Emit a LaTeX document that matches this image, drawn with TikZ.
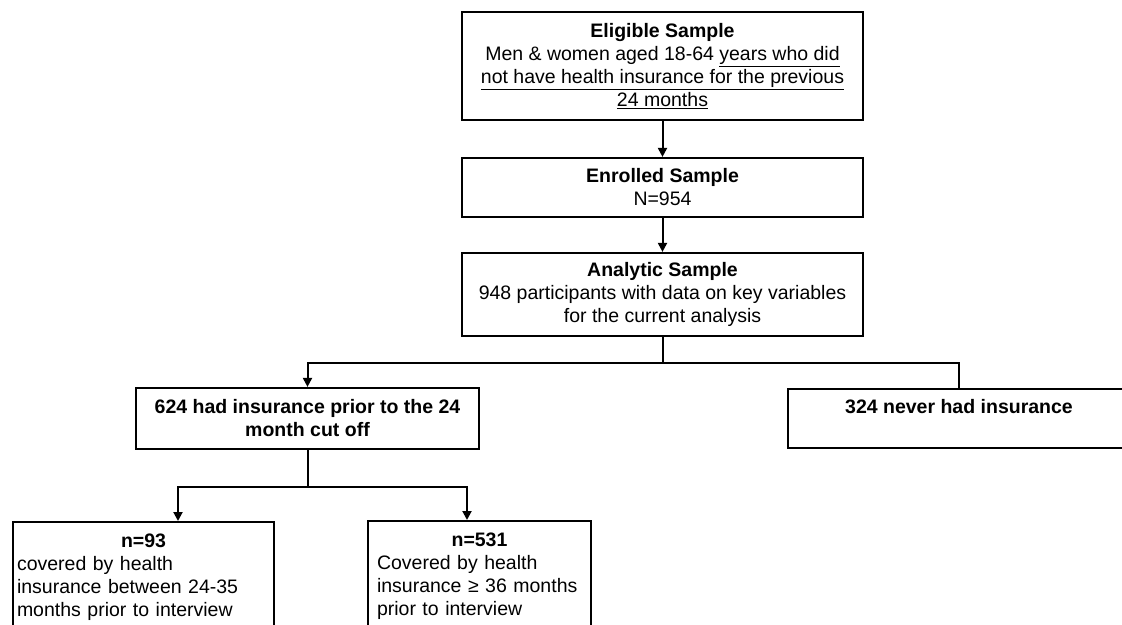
\documentclass[tikz,border=0pt]{standalone}
\usepackage{fontspec}
\setmainfont{Liberation Sans}
\usetikzlibrary{arrows.meta}

\tikzset{
  flowbox/.style={draw, line width=2.2pt, inner sep=0pt, font=\fontsize{19.5}{23}\selectfont},
  centerbox/.style={flowbox, align=center},
  groupbox/.style={flowbox, anchor=north, inner ysep=12pt, text depth=100pt},
  flowline/.style={line width=2pt},
  flowarrow/.style={flowline, -{Triangle[width=9pt,length=9pt]}}
}

\begin{document}
\begin{tikzpicture}[x=1pt, y=-1pt]
    \useasboundingbox (0,0) rectangle (1122,624);
    \clip (0,0) rectangle (1122,624);

    %sample column
    \node[centerbox, minimum width=401pt, minimum height=108pt] (elig) at (662.5,66)
      {\textbf{Eligible Sample}\\Men \& women aged 18-64 \underline{years who did}\\
       \underline{not have health insurance for the previous}\\\underline{24 months}};
    \node[centerbox, minimum width=401pt, minimum height=59pt] (enrol) at (662.5,187.5)
      {\textbf{Enrolled Sample}\\N=954};
    \node[centerbox, minimum width=401pt, minimum height=83pt] (anal) at (662.5,294.5)
      {\textbf{Analytic Sample}\\948 participants with data on key variables\\for the current analysis};

    %insurance history
    \node[centerbox, minimum width=343pt, minimum height=61pt] (had) at (307.5,418.5)
      {\textbf{624 had insurance prior to the 24}\\\textbf{month cut off}};
    \node[centerbox, minimum width=342pt, minimum height=59pt, text height=15pt, text depth=26pt] (never) at (959,418.5)
      {\textbf{324 never had insurance}};

    %coverage groups
    \node[groupbox, text width=253pt, inner xsep=4pt] (short) at (143.5,521)
      {{\centering\textbf{n=93}\par}\raggedright covered by health\\insurance between 24-35\\months prior to interview};
    \node[groupbox, text width=205pt, inner xsep=9pt] (long) at (479.5,520)
      {{\centering\textbf{n=531}\par}\raggedright Covered by health\\insurance ≥ 36 months\\prior to interview};

    \coordinate (split1) at (662.5,363);
    \coordinate (split2) at (307.5,487);

    \draw[flowarrow] (elig) -- (enrol);
    \draw[flowarrow] (enrol) -- (anal);
    \draw[flowline] (anal) -- (split1);
    \draw[flowarrow] (split1) -| (had);
    \draw[flowline] (split1) -| (never);
    \draw[flowline] (had) -- (split2);
    \draw[flowarrow] (split2) -| ([xshift=34.5pt]short.north);
    \draw[flowarrow] (split2) -| ([xshift=-12.5pt]long.north);
\end{tikzpicture}
\end{document}
